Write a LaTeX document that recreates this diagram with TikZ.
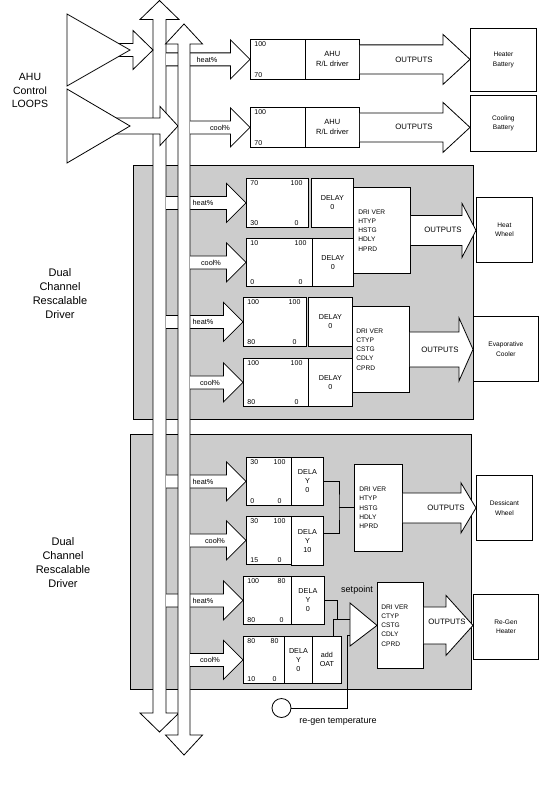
\documentclass[tikz,border=0pt]{standalone}
\usepackage{fontspec}
\setmainfont{Liberation Sans}
\usetikzlibrary{positioning, calc}
\definecolor{panelGrey}{HTML}{CCCCCC}

\tikzset{
  box/.style={draw, fill=white, inner sep=0pt, anchor=north west},
  panel/.style={draw, fill=panelGrey},
  numTxt/.style={font=\fontsize{7}{8}\selectfont, inner sep=0pt},
  delayTxt/.style={font=\fontsize{7.2}{9}\selectfont, align=center},
  drvTxt/.style={font=\fontsize{6.6}{9.3}\selectfont, align=left, inner sep=0pt, anchor=west},
  outTxt/.style={font=\fontsize{6.6}{9.5}\selectfont, align=center},
  ahuTxt/.style={font=\fontsize{7.5}{10}\selectfont, align=center},
  arrTxt/.style={font=\fontsize{7.3}{8}\selectfont, inner sep=0pt},
  outputsTxt/.style={font=\fontsize{7.8}{9}\selectfont, inner sep=0pt},
  spTxt/.style={font=\fontsize{9}{10}\selectfont, inner sep=0pt},
  bigTxt/.style={font=\fontsize{10.5}{13.5}\selectfont, align=center},
  dualTxt/.style={font=\fontsize{11}{14}\selectfont, align=center}
}

% flèche creuse : départ, pointe, long. pointe, demi-tige, demi-pointe
\newcommand{\blockarrow}[5]{%
  \filldraw[fill=white] let \p1=(#1), \p2=(#2) in
    (\x1,\y2+#4pt) -- (\x2-#3pt,\y2+#4pt) -- (\x2-#3pt,\y2+#5pt) -- (\p2)
    -- (\x2-#3pt,\y2-#5pt) -- (\x2-#3pt,\y2-#4pt) -- (\x1,\y2-#4pt);}

% bus vertical à double pointe : axe, demi-tige, demi-pointe, y haut, long. pointe, y bas
\newcommand{\busarrow}[6]{%
  \filldraw[fill=white] (#1,#4) -- ({#1+#3},{#4+#5}) -- ({#1+#2},{#4+#5})
    -- ({#1+#2},{#6-#5}) -- ({#1+#3},{#6-#5}) -- (#1,#6) -- ({#1-#3},{#6-#5})
    -- ({#1-#2},{#6-#5}) -- ({#1-#2},{#4+#5}) -- ({#1-#3},{#4+#5}) -- cycle;}

% boîte d'échelle avec ses quatre coins
\newcommand{\rangebox}[9]{%
  \node[box, minimum width=#4, minimum height=#5] (#1) at (#2,#3) {};
  \node[numTxt, anchor=north west] (#1-tl) at ([xshift=4pt, yshift=-2.5pt]#1.north west) {#6};
  \node[numTxt, anchor=north east] (#1-tr) at ([xshift=-6pt, yshift=-2.5pt]#1.north east) {#7};
  \node[numTxt, anchor=south west] (#1-bl) at ([xshift=4pt, yshift=2pt]#1.south west) {#8};
  \node[numTxt, anchor=south] (#1-br) at ($(#1-tr.south |- #1.south)+(0,-2)$) {#9};}

\begin{document}
\begin{tikzpicture}[x=1pt, y=-1pt, line width=0.8pt]
  \useasboundingbox (0,0) rectangle (550,800);

  % panneaux gris
  \draw[panel] (133,165) rectangle (473,419);
  \draw[panel] (130,434) rectangle (471,689);

  % textes de gauche
  \node[bigTxt] (loopsTxt) at (30,90.5) {AHU\\Control\\LOOPS};
  \node[dualTxt] (dualA) at (60,294) {Dual\\Channel\\Rescalable\\Driver};
  \node[dualTxt] (dualB) at (63,563) {Dual\\Channel\\Rescalable\\Driver};

  % bloc AHU
  \rangebox{rngA}{250}{39}{55}{40}{100}{}{70}{}
  \node[box, ahuTxt, minimum width=54, minimum height=40] (ahuA) at (305,39) {AHU\\R/L driver};
  \node[box, outTxt, minimum width=66, minimum height=63] (outA) at (470,28) {Heater\\Battery};
  \rangebox{rngB}{250}{107}{55}{40}{100}{}{70}{}
  \node[box, ahuTxt, minimum width=54, minimum height=40] (ahuB) at (305,107) {AHU\\R/L driver};
  \node[box, outTxt, minimum width=66, minimum height=56] (outB) at (470,95) {Cooling\\Battery};

  % premier driver double
  \rangebox{rng1}{246}{178}{62}{49}{70}{100}{30}{0}
  \node[box, delayTxt, minimum width=42, minimum height=49] (dly1) at (311,178) {DELAY\\0};
  \rangebox{rng2}{246}{238}{66}{48}{10}{100}{0}{0}
  \node[box, delayTxt, minimum width=41, minimum height=48] (dly2) at (312,238) {DELAY\\0};
  \node[box, minimum width=57, minimum height=86] (drv1) at (353,187) {};
  \node[drvTxt] (drv1-t) at ([xshift=5]drv1.west) {DRI VER\\HTYP\\HSTG\\HDLY\\HPRD};
  \node[box, outTxt, minimum width=56, minimum height=65] (outC) at (476,197) {Heat\\Wheel};

  \rangebox{rng3}{243}{297}{63}{49}{100}{100}{80}{0}
  \node[box, delayTxt, minimum width=44, minimum height=49] (dly3) at (308,297) {DELAY\\0};
  \rangebox{rng4}{243}{358}{65}{48}{100}{100}{80}{0}
  \node[box, delayTxt, minimum width=44, minimum height=48] (dly4) at (308,358) {DELAY\\0};
  \node[box, minimum width=57, minimum height=86] (drv2) at (352,306) {};
  \node[drvTxt] (drv2-t) at ([xshift=4]drv2.west) {DRI VER\\CTYP\\CSTG\\CDLY\\CPRD};
  \node[box, outTxt, minimum width=65, minimum height=65] (outD) at (473,316) {Evaporative\\Cooler};

  % second driver double
  \rangebox{rng5}{246}{457}{45}{48}{30}{100}{0}{0}
  \node[box, delayTxt, minimum width=32, minimum height=48] (dly5) at (291,457) {DELA\\Y\\0};
  \rangebox{rng6}{246}{516}{45}{48}{30}{100}{15}{0}
  \node[box, delayTxt, minimum width=32, minimum height=49] (dly6) at (291,516) {DELA\\Y\\10};
  \node[box, minimum width=48, minimum height=87] (drv3) at (354,464) {};
  \node[drvTxt] (drv3-t) at ([xshift=5]drv3.west) {DRI VER\\HTYP\\HSTG\\HDLY\\HPRD};
  \node[box, outTxt, minimum width=56, minimum height=65] (outE) at (476,475) {Dessicant\\Wheel};

  \rangebox{rng7}{243}{576}{48}{48}{100}{80}{80}{0}
  \node[box, delayTxt, minimum width=33, minimum height=48] (dly7) at (291,576) {DELA\\Y\\0};
  \rangebox{rng8}{243}{636}{41}{47}{80}{80}{10}{0}
  \node[box, delayTxt, minimum width=28, minimum height=47] (dly8) at (284,636) {DELA\\Y\\0};
  \node[box, delayTxt, minimum width=29, minimum height=47] (oat) at (312,636) {add\\OAT};
  \node[box, minimum width=46, minimum height=86] (drv4) at (377,582) {};
  \node[drvTxt] (drv4-t) at ([xshift=4]drv4.west) {DRI VER\\CTYP\\CSTG\\CDLY\\CPRD};
  \node[box, outTxt, minimum width=65, minimum height=65] (outF) at (473,594) {Re-Gen\\Heater};

  % bus chaud et boucles
  \coordinate (loopA) at (110,50);
  \coordinate (loopB) at (110,126);
  \coordinate (bus1W) at (153,50);
  \coordinate (bus2W) at (178,126);
  \coordinate (bus1E) at (166,0);
  \coordinate (bus2E) at (190,0);
  \busarrow{159.5}{6.5}{19.5}{0.5}{19}{732}
  \blockarrow{loopA}{bus1W}{20}{6.5}{19.5}
  \filldraw[fill=white] (67,14) -- (130,50) -- (67,86) -- cycle;
  \blockarrow{loopB}{bus2W}{18}{8}{19.5}
  \filldraw[fill=white] (67,89) -- (130,126) -- (67,163) -- cycle;

  % signaux heat%
  \foreach \r/\dx in {rngA/-43, rng1/-43, rng3/-40, rng5/-43, rng7/-40} {
    \blockarrow{bus1E}{\r.west}{19.5}{6.5}{19.5}
    \node[arrTxt] (heat-\r) at ([xshift=\dx]\r.west) {heat\%};
  }

  % bus froid et signaux cool%
  \busarrow{184}{6}{18.5}{24}{20}{755}
  \foreach \r/\dx in {rngB/-30, rng2/-35, rng4/-33, rng6/-31, rng8/-33} {
    \blockarrow{bus2E}{\r.west}{19.5}{6.5}{19.5}
    \node[arrTxt] (cool-\r) at ([xshift=\dx]\r.west) {cool\%};
  }

  % sorties
  \blockarrow{ahuA.east}{ahuA.center -| outA.west}{27}{14.5}{25}
  \blockarrow{ahuB.east}{ahuB.center -| outB.west}{27}{14.5}{25}
  \blockarrow{drv1.east}{drv1.center -| outC.west}{14}{15}{27}
  \blockarrow{drv2.east}{drv2.center -| outD.west}{14}{17.5}{31.5}
  \blockarrow{drv3.east}{drv3.center -| outE.west}{15}{15}{25}
  \blockarrow{drv4.east}{drv4.center -| outF.west}{27}{18.5}{30}
  \node[outputsTxt] (outsA) at (414,60) {OUTPUTS};
  \node[outputsTxt] (outsB) at (414,127) {OUTPUTS};
  \node[outputsTxt] (outsC) at (443,230) {OUTPUTS};
  \node[outputsTxt] (outsD) at (440,350) {OUTPUTS};
  \node[outputsTxt] (outsE) at (446,508) {OUTPUTS};
  \node[outputsTxt] (outsF) at (447,622) {OUTPUTS};

  % liaisons retards -> driver
  \coordinate (jn) at (339,507);
  \draw (dly5.east) -| (jn) |- ([yshift=8]dly6.east);
  \draw (jn) -- (jn -| drv3.west);

  % consigne de régénération
  \coordinate (j1) at (337,619);
  \coordinate (j2) at (333,619);
  \coordinate (spIn1) at (350,619);
  \coordinate (spIn2) at (350,635);
  \coordinate (k) at (347,635);
  \filldraw[fill=white] (350,603) -- (drv4.west) -- (350,646) -- cycle;
  \node[spTxt] (spLbl) at (357,590) {setpoint};
  \draw (dly7.east) -| (j1);
  \draw (oat.north -| j2) -- (j2) -- (spIn1);
  \node[circle, draw, fill=white, minimum size=19, inner sep=0pt] (tmp) at (281.5,708) {};
  \draw (tmp.east) -| (k) -- (spIn2);
  \node[spTxt] (tmpLbl) at (338,722) {re-gen temperature};
\end{tikzpicture}
\end{document}
